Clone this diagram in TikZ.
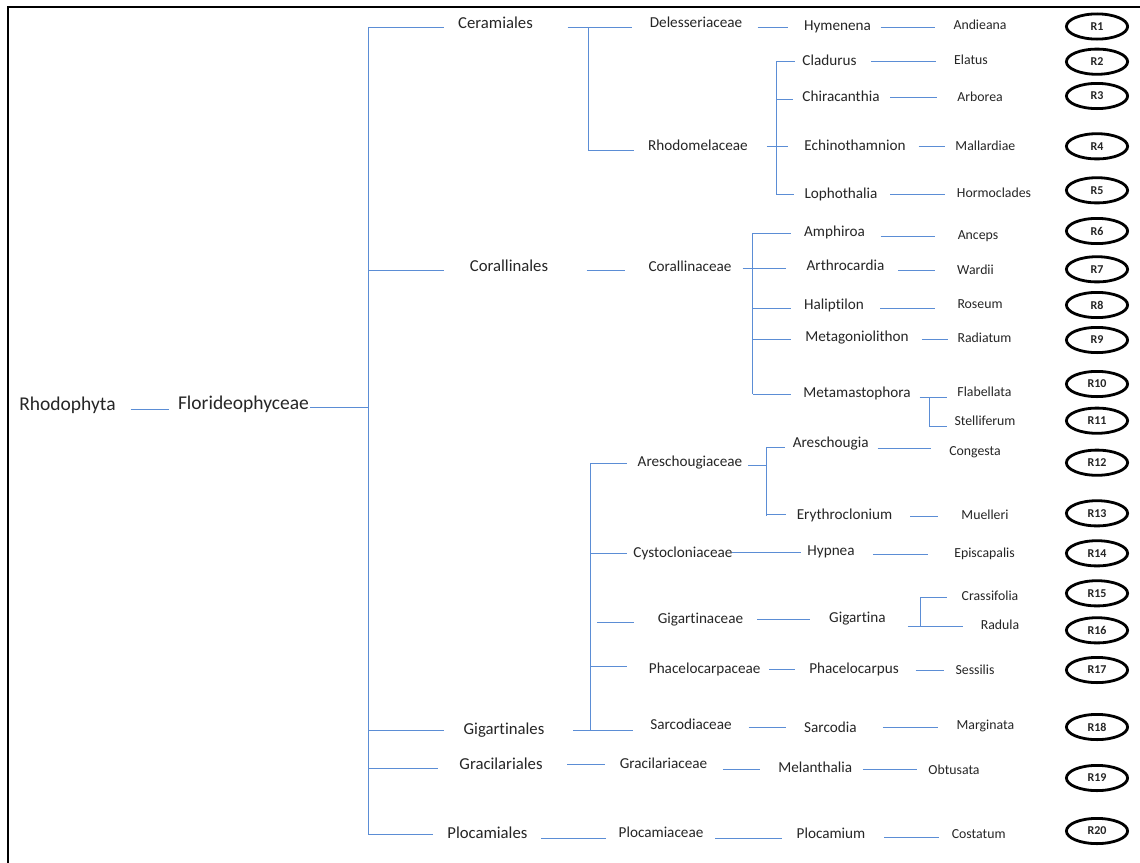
\documentclass[tikz,border=0pt]{standalone}
\usepackage{fontspec}
\setmainfont{Carlito}[Ligatures={NoCommon}]
\usetikzlibrary{shapes.geometric}
\definecolor{treeblue}{RGB}{91,141,213}
\definecolor{txt}{RGB}{38,38,38}
\newcommand\hseg[4]{\coordinate (#1a) at (#2,#4); \coordinate (#1b) at (#3,#4); \draw[tree] (#1a) -- (#1b);}
\newcommand\vseg[4]{\coordinate (#1a) at (#2,#3); \coordinate (#1b) at (#2,#4); \draw[tree] (#1a) -- (#1b);}
\begin{document}
\begin{tikzpicture}[x=1pt,y=-1pt,
  tree/.style={draw=treeblue, line width=0.9pt},
  lbl/.style={inner sep=0pt, anchor=mid, text=txt, yshift=-1.5pt},
  toplab/.style={lbl, font=\fontsize{19.5}{22}\selectfont},
  ordlab/.style={lbl, font=\fontsize{16.7}{20}\selectfont},
  famlab/.style={lbl, font=\fontsize{15.2}{18}\selectfont},
  spclab/.style={lbl, font=\fontsize{13.8}{16}\selectfont},
  rlab/.style={ellipse, draw=black, line width=2.8pt, minimum width=61.2pt, minimum height=25.2pt, inner sep=0pt, text=txt, font=\bfseries\fontsize{12}{14}\selectfont}]
\useasboundingbox (0,0) rectangle (1140,862);
\fill[white] (0,0) rectangle (1140,862);
% frame (only left and top edges are visible)
\coordinate (fbl) at (8,870);
\coordinate (ftl) at (8,7);
\coordinate (ftr) at (1150,7);
\draw[black, line width=2pt] (fbl) -- (ftl) -- (ftr);

% ---- labels ----
\node[toplab] (rho) at (67.5,407) {Rhodophyta};
\node[toplab] (flo) at (243.5,406) {Florideophyceae};

\node[ordlab] (cer) at (495.5,25) {Ceramiales};
\node[ordlab] (cor) at (509,268) {Corallinales};
\node[ordlab] (gig) at (504,730.5) {Gigartinales};
\node[ordlab] (gra) at (501,765.7) {Gracilariales};
\node[ordlab] (plo) at (487.4,835) {Plocamiales};

\node[famlab] (del) at (696,24) {Delesseriaceae};
\node[famlab] (rhm) at (698,147) {Rhodomelaceae};
\node[famlab] (crl) at (690,267.7) {Corallinaceae};
\node[famlab] (are) at (690,462.7) {Areschougiaceae};
\node[famlab] (cys) at (683,553.3) {Cystocloniaceae};
\node[famlab] (gin) at (700.5,619.7) {Gigartinaceae};
\node[famlab] (pha) at (704.7,669.3) {Phacelocarpaceae};
\node[famlab] (sar) at (691,726) {Sarcodiaceae};
\node[famlab] (grc) at (663.5,764.7) {Gracilariaceae};
\node[famlab] (plc) at (661,834) {Plocamiaceae};

\node[famlab] (hym) at (837.5,26.7) {Hymenena};
\node[famlab] (cla) at (829.5,61.7) {Cladurus};
\node[famlab] (chi) at (841,97.7) {Chiracanthia};
\node[famlab] (ech) at (855,147) {Echinothamnion};
\node[famlab] (lop) at (841,194.3) {Lophothalia};
\node[famlab] (amp) at (834.5,233) {Amphiroa};
\node[famlab] (art) at (845.5,267) {Arthrocardia};
\node[famlab] (hal) at (834,306) {Haliptilon};
\node[famlab] (mtg) at (857,337.3) {Metagoniolithon};
\node[famlab] (mtm) at (857,394) {Metamastophora};
\node[famlab] (ars) at (830.7,444) {Areschougia};
\node[famlab] (ery) at (844.5,515.3) {Erythroclonium};
\node[famlab] (hyp) at (831,552) {Hypnea};
\node[famlab] (gta) at (857.4,619) {Gigartina};
\node[famlab] (phc) at (854,669.3) {Phacelocarpus};
\node[famlab] (sco) at (830.4,728.7) {Sarcodia};
\node[famlab] (mel) at (815.2,768.7) {Melanthalia};
\node[famlab] (plm) at (831,834.3) {Plocamium};

\node[spclab] (and) at (980,25.7) {Andieana};
\node[spclab] (ela) at (971,60.7) {Elatus};
\node[spclab] (arb) at (980,98) {Arborea};
\node[spclab] (mal) at (985.4,146.7) {Mallardiae};
\node[spclab] (hor) at (994,193.3) {Hormoclades};
\node[spclab] (anc) at (978,235.7) {Anceps};
\node[spclab] (war) at (975.5,270.3) {Wardii};
\node[spclab] (ros) at (980,305) {Roseum};
\node[spclab] (rad) at (984.5,338.3) {Radiatum};
\node[spclab] (fla) at (984.5,392.7) {Flabellata};
\node[spclab] (ste) at (985,421.3) {Stelliferum};
\node[spclab] (con) at (975,451.7) {Congesta};
\node[spclab] (mue) at (985,515.7) {Muelleri};
\node[spclab] (epi) at (984.5,554) {Episcapalis};
\node[spclab] (cra) at (990,596.3) {Crassifolia};
\node[spclab] (rdl) at (1000,625.3) {Radula};
\node[spclab] (ses) at (975,670.3) {Sessilis};
\node[spclab] (mar) at (985.4,725.3) {Marginata};
\node[spclab] (obt) at (954,770.7) {Obtusata};
\node[spclab] (cos) at (978.7,834.3) {Costatum};

% ---- R ellipses ----
\node[rlab] (r1) at (1097,26.5) {R1};
\node[rlab] (r2) at (1097,61.7) {R2};
\node[rlab] (r3) at (1097,96) {R3};
\node[rlab] (r4) at (1097,146.3) {R4};
\node[rlab] (r5) at (1097,190.3) {R5};
\node[rlab] (r6) at (1097,231) {R6};
\node[rlab] (r7) at (1097,269.3) {R7};
\node[rlab] (r8) at (1097,305) {R8};
\node[rlab] (r9) at (1097,340) {R9};
\node[rlab] (r10) at (1097,384) {R10};
\node[rlab] (r11) at (1097,420.7) {R11};
\node[rlab] (r12) at (1097,462.7) {R12};
\node[rlab] (r13) at (1097,513.3) {R13};
\node[rlab] (r14) at (1097,553.3) {R14};
\node[rlab] (r15) at (1097,593.3) {R15};
\node[rlab] (r16) at (1097,630.3) {R16};
\node[rlab] (r17) at (1097,670) {R17};
\node[rlab] (r18) at (1097,727) {R18};
\node[rlab] (r19) at (1097,778) {R19};
\node[rlab] (r20) at (1097,831) {R20};

% ---- tree lines ----
\hseg{l0}{130.7}{169}{409}
\hseg{l1}{310}{368}{407}
\vseg{bus}{368}{27}{834.3}
\hseg{bcer}{368}{444}{27}
\hseg{bcor}{368}{444}{270}
\hseg{bgig}{368}{443.7}{730.3}
\hseg{bgra}{368}{438}{768}
\hseg{bplo}{368}{433}{834.3}

% Ceramiales
\hseg{cer1}{567.5}{632}{27}
\vseg{cerv}{588}{27}{150.7}
\hseg{cer2}{588}{634}{150.7}
\hseg{delhym}{757.5}{788}{27}
\hseg{hymand}{880.7}{935}{27}
\hseg{rhm1}{766.8}{788}{146.7}
\vseg{rhmv}{776.4}{61}{194.3}
\hseg{rcla}{776.4}{795}{61}
\hseg{rchi}{776.4}{793}{99.3}
\hseg{rlop}{776.4}{794}{194.3}
\hseg{claela}{871}{936}{61.3}
\hseg{chiarb}{890}{937}{97.7}
\hseg{echmal}{918.6}{944.6}{146.7}
\hseg{lophor}{890}{944.6}{194.3}

% Corallinales
\hseg{cor1}{586.7}{624.6}{270.3}
\hseg{crl1}{742.5}{786}{268}
\vseg{crlv}{752.5}{233}{394.3}
\hseg{camp}{752.5}{790.7}{233}
\hseg{chal}{752.5}{790.7}{308}
\hseg{cmtg}{752.5}{790.7}{339.7}
\hseg{cmtm}{752.5}{790.7}{394.3}
\hseg{ampanc}{880.7}{935.4}{236.3}
\hseg{artwar}{898}{935.4}{270.3}
\hseg{halros}{880}{934.6}{308}
\hseg{mtgrad}{921.8}{948}{339}
\hseg{mtm1}{919.6}{947}{397.3}
\vseg{mtmv}{929.3}{397.3}{426}
\hseg{mtm2}{929.3}{947}{426}

% Gigartinales
\hseg{gig1}{573}{632.5}{730.3}
\vseg{gigv}{590}{463.3}{730.3}
\hseg{gare}{590}{626.8}{463.3}
\hseg{gcys}{590}{626.8}{553}
\hseg{ggin}{596.8}{634}{622.3}
\hseg{gpha}{590}{626.8}{666.3}
\hseg{are1}{748}{766.8}{465.7}
\vseg{arev}{766.8}{447.3}{516}
\hseg{aars}{766.8}{784.6}{447.3}
\hseg{aery}{766.8}{786}{514}
\hseg{arscon}{877.5}{931}{448.7}
\hseg{erymue}{910}{938}{516.3}
\hseg{cyshyp}{731.8}{801.4}{552.7}
\hseg{hypepi}{873}{928}{554.3}
\hseg{gingta}{757}{810}{619.7}
\hseg{gta1}{907.9}{962.9}{626.3}
\vseg{gtav}{920.4}{597.3}{626.3}
\hseg{gta2}{920.4}{946.8}{597.3}
\hseg{phaphc}{769}{795}{669.3}
\hseg{phcses}{915.7}{943.6}{670.3}
\hseg{sarsco}{748.6}{786.4}{727}
\hseg{scomar}{882.9}{937.5}{727}

% Gracilariales
\hseg{gra1}{567.4}{604.6}{764.5}
\hseg{grcmel}{722.9}{760.4}{769}
\hseg{melobt}{862.9}{917}{769}

% Plocamiales
\hseg{plo1}{541}{605.5}{838}
\hseg{plcplm}{715.4}{782}{838.3}
\hseg{plmcos}{884}{939.3}{837.3}
\end{tikzpicture}
\end{document}
